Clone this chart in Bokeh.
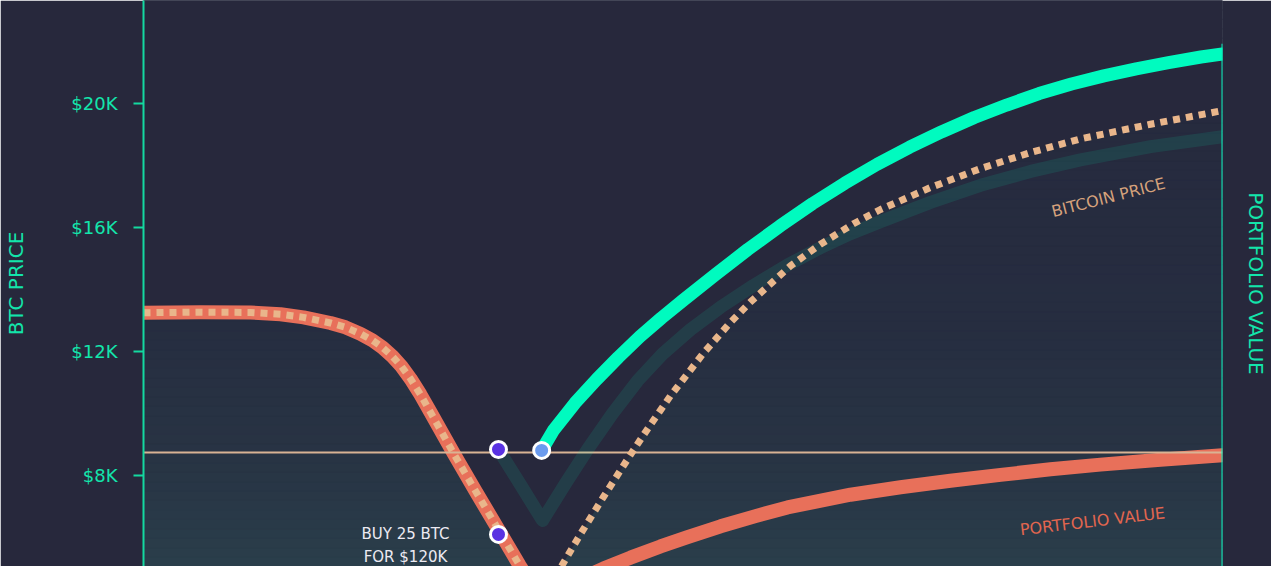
import numpy as np
from bokeh.plotting import figure
from bokeh.models import Range1d, FixedTicker, Label, LinearAxis
from bokeh.core.properties import value
from bokeh.embed import file_html
from bokeh.resources import INLINE

# ---------------- data ----------------
# x: day index (0 = left edge, 100 = right edge); y: value in $K
btc_days = [0, 5.28, 9.92, 12.70, 14.83, 17.33, 18.72, 20.11, 21.22, 22.15,
            23.08, 23.91, 24.75, 25.67, 26.60, 28.73, 30.77, 32.90, 34.85, 36.89,
            38.65, 40.50, 42.63, 45.41, 46.99, 48.84, 51.90, 54.40, 56.26, 59.96,
            62.74, 65.80, 68.30, 72.94, 77.57, 82.21, 86.84, 93.33, 100]
btc_price = [13.25, 13.27, 13.26, 13.20, 13.10, 12.92, 12.78, 12.57, 12.36, 12.13,
             11.84, 11.52, 11.12, 10.61, 10.04, 8.72, 7.50, 6.25, 5.10, 3.97,
             5.02, 6.11, 7.31, 8.82, 9.64, 10.57, 11.95, 12.94, 13.60, 14.76,
             15.46, 16.12, 16.58, 17.29, 17.90, 18.42, 18.86, 19.33, 19.77]

portfolio_days = [0, 5.28, 9.92, 12.70, 14.83, 17.33, 18.72, 20.11, 21.22, 22.15,
                  23.08, 23.91, 24.75, 25.67, 26.60, 28.73, 30.77, 32.90, 34.85, 36.79,
                  38.65, 40.50, 42.63, 45.13, 47.91, 50.42, 53.48, 56.72, 59.68, 65.52,
                  70.16, 74.79, 79.43, 84.06, 88.69, 94.25, 100]
portfolio_value = [13.25, 13.27, 13.26, 13.20, 13.10, 12.92, 12.78, 12.57, 12.36, 12.13,
                   11.84, 11.52, 11.12, 10.61, 10.04, 8.72, 7.50, 6.25, 5.10, 4.03,
                   4.36, 4.66, 5.00, 5.35, 5.71, 6.01, 6.36, 6.69, 6.97, 7.38,
                   7.62, 7.83, 8.02, 8.20, 8.35, 8.51, 8.65]

hold_days = [32.90, 34.94, 36.98, 39.11, 41.15, 43.47, 45.78, 48.10, 50.70, 53.48,
             56.53, 59.68, 62.74, 65.52, 68.30, 72.94, 77.57, 82.21, 86.84, 93.33, 100]
hold_value = [8.84, 7.70, 6.55, 7.74, 8.84, 10.00, 11.05, 11.92, 12.71, 13.43,
              14.13, 14.79, 15.35, 15.80, 16.19, 16.81, 17.36, 17.81, 18.18, 18.61, 18.93]

new_days = [36.9, 38, 40, 42, 44, 46, 48, 50, 53, 56,
            59, 62, 65, 68, 71, 74, 77, 80, 83, 86,
            89, 92, 95, 98, 100]
new_value = [8.81, 9.46, 10.34, 11.10, 11.81, 12.48, 13.08, 13.65, 14.48, 15.29,
             16.05, 16.77, 17.43, 18.04, 18.59, 19.09, 19.55, 19.95, 20.32, 20.63,
             20.89, 21.12, 21.32, 21.50, 21.60]

event_days = [32.9, 32.9, 36.9]
event_values = [8.84, 6.10, 8.81]
buy_level = 8.75

tick_values = [8, 12, 16, 20]
tick_labels = ["$8K", "$12K", "$16K", "$20K"]

# ---------------- style ----------------
BG = "#27283c"
AXIS = "#14d9a0"
AXIS_TEXT = "#13e5ab"
GREEN = "#00fbbf"
CORAL = "#e8705a"
PEACH = "#e9b68b"
PURPLE = "#5a33e2"
BLUE = "#6b9bee"
FONT = "DejaVu Sans"

Y_LO, Y_HI = 5.0645, 23.3226

p = figure(width=1271, height=566, x_range=Range1d(btc_days[0], btc_days[-1]),
           y_range=Range1d(Y_LO, Y_HI), output_backend="svg", toolbar_location=None,
           x_axis_location=None, background_fill_color=BG, border_fill_color=BG,
           min_border_left=143, min_border_right=49, min_border_top=0, min_border_bottom=0)
p.grid.visible = False
p.outline_line_color = None

# vertical gradient fill under the bitcoin price line (bands + mask)
n = 60
edges = np.linspace(Y_LO, Y_HI, n + 1)
mids = (edges[:-1] + edges[1:]) / 2
stop_v = [Y_LO, 8.5, 13.0, Y_HI]
stop_c = np.array([[42, 62, 75], [40, 52, 68], [38, 45, 64], [38, 41, 61]], dtype=float)
cols = []
for m in mids:
    r, g, b = (np.interp(m, stop_v, stop_c[:, k]) for k in range(3))
    cols.append("#%02x%02x%02x" % (int(round(r)), int(round(g)), int(round(b))))
p.quad(left=btc_days[0], right=btc_days[-1], bottom=edges[:-1], top=edges[1:],
       fill_color=cols, line_color=cols, line_width=1)
p.varea(x=btc_days, y1=btc_price, y2=Y_HI, fill_color=BG)

# portfolio value (coral)
p.line(portfolio_days, portfolio_value, line_color=CORAL, line_width=14,
       line_join="round", line_cap="round")
# buy level
p.hspan(y=[buy_level], line_color="#d9b394", line_width=2)
# value if held (ghost teal)
p.line(hold_days, hold_value, line_color=GREEN, line_alpha=0.1, line_width=13,
       line_join="round", line_cap="round")
# bitcoin price (dotted)
p.line(btc_days, btc_price, line_color=PEACH, line_width=7, line_dash="7 6",
       line_cap="butt", line_join="round")
# new portfolio (green)
p.line(new_days, new_value, line_color=GREEN, line_width=13,
       line_join="round", line_cap="round")
# right border line
p.segment(x0=[new_days[-1]], y0=[Y_LO], x1=[new_days[-1]], y1=[new_value[-1] + 0.33],
          line_color="#08f0bc", line_width=2)

# event points
p.scatter(event_days, event_values, size=16, fill_color=[PURPLE, PURPLE, BLUE],
          line_color="white", line_width=3)

# annotation text
p.text(x=[event_days[1]] * 2, y=[event_values[1]] * 2, text=["BUY 25 BTC", "FOR $120K"],
       x_offset=-93, y_offset=[0, 23], text_align="center", text_baseline="middle",
       text_color="#eceaf2", text_font=value(FONT), text_font_size="15px")

# series labels
p.add_layout(Label(x=89.43, y=16.97, text="BITCOIN PRICE", angle=0.25,
                   text_align="center", text_baseline="middle", text_color="#d6a27c",
                   text_font=FONT, text_font_size="16px"))
p.add_layout(Label(x=87.95, y=6.52, text="PORTFOLIO VALUE", angle=0.117,
                   text_align="center", text_baseline="middle", text_color="#e2664f",
                   text_font=FONT, text_font_size="16px"))

# left y axis
ax = p.yaxis[0]
ax.ticker = FixedTicker(ticks=tick_values)
ax.major_label_overrides = {v: s for v, s in zip(tick_values, tick_labels)}
ax.axis_line_color = AXIS
ax.axis_line_width = 2
ax.major_tick_line_color = AXIS
ax.major_tick_line_width = 2
ax.major_tick_out = 10
ax.major_tick_in = 0
ax.minor_tick_line_color = None
ax.major_label_standoff = 16
ax.major_label_text_color = AXIS_TEXT
ax.major_label_text_font = FONT
ax.major_label_text_font_size = "18px"
ax.axis_label = "BTC PRICE"
ax.axis_label_standoff = 40
ax.axis_label_text_color = AXIS_TEXT
ax.axis_label_text_font = FONT
ax.axis_label_text_font_size = "20px"
ax.axis_label_text_font_style = "normal"

# right axis (label only)
rax = LinearAxis(ticker=FixedTicker(ticks=[]), axis_line_color=None,
                 major_tick_line_color=None, minor_tick_line_color=None,
                 major_tick_out=0, major_tick_in=0, major_label_standoff=0,
                 axis_label="PORTFOLIO VALUE", axis_label_standoff=21,
                 axis_label_text_color=AXIS_TEXT, axis_label_text_font=FONT,
                 axis_label_text_font_size="20px", axis_label_text_font_style="normal")
p.add_layout(rax, "right")

open("out.html", "w").write(file_html(p, INLINE))
